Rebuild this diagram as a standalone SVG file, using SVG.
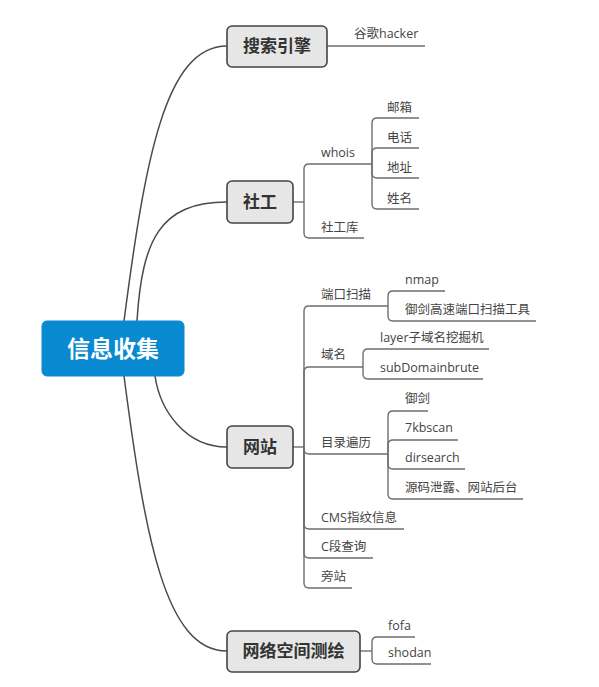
<svg xmlns="http://www.w3.org/2000/svg" width="599" height="687" viewBox="0 0 599 687">
<style>
.bg{fill:#ffffff}
.main{fill:#0889d0;stroke:#0889d0;stroke-width:1}
.mt{font-family:"Noto Sans CJK SC",sans-serif;font-weight:bold;font-size:23px;fill:#ffffff;text-anchor:middle}
.br{fill:#e6e6e6;stroke:#444444;stroke-width:1.6}
.bt{font-family:"Noto Sans CJK SC",sans-serif;font-weight:bold;font-size:17px;fill:#333333;text-anchor:middle}
.lt{font-family:"Open Sans","Noto Sans CJK SC",sans-serif;font-size:12.5px;fill:#444444}
.cv{fill:none;stroke:#4a4a4a;stroke-width:1.5}
.ln{fill:none;stroke:#6e6e6e;stroke-width:1.4}
</style>
<rect class="bg" x="0" y="0" width="599" height="687"/>
<g id="connectors">
<path class="cv" d="M124,321 C145,160 165,46 227,46"/>
<path class="cv" d="M137,321 C142,240 160,202 227,202"/>
<path class="cv" d="M155,376 C160,410 185,447 227,447"/>
<path class="cv" d="M124,376 C145,537 165,651 227,651"/>
<path class="ln" d="M327,46 H425"/>
<path class="ln" d="M293,202 H304"/>
<path class="ln" d="M304,202 V169 Q304,164 309,164 H372"/>
<path class="ln" d="M304,202 V233 Q304,238 309,238 H364"/>
<path class="ln" d="M372,164 V123 Q372,118 377,118 H419"/>
<path class="ln" d="M372,164 V153 Q372,148 377,148 H419"/>
<path class="ln" d="M372,164 V173 Q372,178 377,178 H419"/>
<path class="ln" d="M372,164 V204 Q372,209 377,209 H419"/>
<path class="ln" d="M293,447 H304"/>
<path class="ln" d="M304,447 V311 Q304,306 309,306 H388"/>
<path class="ln" d="M304,447 V372 Q304,367 309,367 H363"/>
<path class="ln" d="M304,447 V449 Q304,454 309,454 H388"/>
<path class="ln" d="M304,447 V524 Q304,529 309,529 H404"/>
<path class="ln" d="M304,447 V553 Q304,558 309,558 H373"/>
<path class="ln" d="M304,447 V583 Q304,588 309,588 H352"/>
<path class="ln" d="M388,306 V296 Q388,291 393,291 H445"/>
<path class="ln" d="M388,306 V316 Q388,321 393,321 H536"/>
<path class="ln" d="M363,367 V354 Q363,349 368,349 H489"/>
<path class="ln" d="M363,367 V374 Q363,379 368,379 H483"/>
<path class="ln" d="M388,454 V416 Q388,411 393,411 H428"/>
<path class="ln" d="M388,454 V445 Q388,440 393,440 H458"/>
<path class="ln" d="M388,454 V464 Q388,469 393,469 H465"/>
<path class="ln" d="M388,454 V494 Q388,499 393,499 H523"/>
<path class="ln" d="M360,651 H372"/>
<path class="ln" d="M372,651 V642 Q372,637 377,637 H415"/>
<path class="ln" d="M372,651 V659 Q372,664 377,664 H431"/>
</g>
<g id="n-root">
<rect class="main" x="42" y="321" width="142" height="55" rx="5"/>
<text class="mt" x="113" y="357">信息收集</text>
</g>
<g id="n-search">
<rect class="br" x="227" y="26" width="100" height="41" rx="5"/>
<text class="bt" x="277" y="52">搜索引擎</text>
</g>
<g id="n-google"><text class="lt" x="354" y="38">谷歌hacker</text></g>
<g id="n-social">
<rect class="br" x="227" y="181" width="66" height="42" rx="5"/>
<text class="bt" x="260" y="208">社工</text>
</g>
<g id="n-whois"><text class="lt" x="321" y="157">whois</text></g>
<g id="n-sgk"><text class="lt" x="321" y="232">社工库</text></g>
<g id="n-mail"><text class="lt" x="387" y="112">邮箱</text></g>
<g id="n-phone"><text class="lt" x="387" y="142">电话</text></g>
<g id="n-addr"><text class="lt" x="387" y="172">地址</text></g>
<g id="n-name"><text class="lt" x="387" y="203">姓名</text></g>
<g id="n-site">
<rect class="br" x="227" y="426" width="66" height="42" rx="5"/>
<text class="bt" x="260" y="453">网站</text>
</g>
<g id="n-port"><text class="lt" x="321" y="299">端口扫描</text></g>
<g id="n-nmap"><text class="lt" x="405" y="284">nmap</text></g>
<g id="n-yjport"><text class="lt" x="405" y="314">御剑高速端口扫描工具</text></g>
<g id="n-domain"><text class="lt" x="321" y="359">域名</text></g>
<g id="n-layer"><text class="lt" x="380" y="342">layer子域名挖掘机</text></g>
<g id="n-subdomain"><text class="lt" x="380" y="372">subDomainbrute</text></g>
<g id="n-dir"><text class="lt" x="321" y="447">目录遍历</text></g>
<g id="n-yj"><text class="lt" x="405" y="403">御剑</text></g>
<g id="n-7kb"><text class="lt" x="405" y="432">7kbscan</text></g>
<g id="n-dirsearch"><text class="lt" x="405" y="462">dirsearch</text></g>
<g id="n-leak"><text class="lt" x="405" y="492">源码泄露、网站后台</text></g>
<g id="n-cms"><text class="lt" x="321" y="522">CMS指纹信息</text></g>
<g id="n-c"><text class="lt" x="321" y="551">C段查询</text></g>
<g id="n-side"><text class="lt" x="321" y="581">旁站</text></g>
<g id="n-space">
<rect class="br" x="227" y="631" width="133" height="41" rx="5"/>
<text class="bt" x="293.5" y="657">网络空间测绘</text>
</g>
<g id="n-fofa"><text class="lt" x="388" y="630">fofa</text></g>
<g id="n-shodan"><text class="lt" x="388" y="657">shodan</text></g>
</svg>
